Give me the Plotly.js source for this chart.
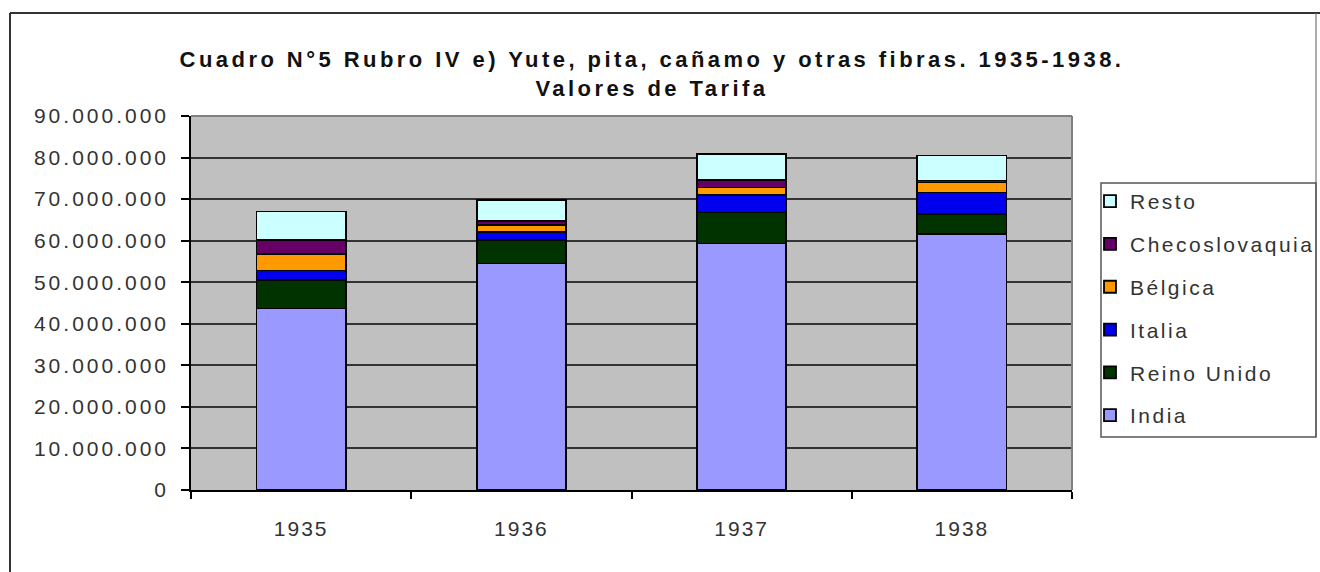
<!DOCTYPE html>
<html>
<head>
<meta charset="utf-8">
<script src="https://cdn.plot.ly/plotly-3.0.1.min.js"></script>
<style>
  html, body { margin: 0; padding: 0; background: #fff; }
  #chart { width: 1320px; height: 572px; }
  .xtick text { letter-spacing: 2px; }
  .ytick text { letter-spacing: 3px; }
  .legendtext { letter-spacing: 2.5px; }
  .gtitle { letter-spacing: 3.45px; }
</style>
</head>
<body>
<div id="chart"></div>
<script>
// ---- data ----
const years = ["1935", "1936", "1937", "1938"];
const india          = [43700000, 54500000, 59300000, 61600000];
const reinoUnido     = [6900000, 5600000, 7500000, 4900000];
const italia         = [2200000, 1900000, 4100000, 5100000];
const belgica        = [4000000, 1800000, 1900000, 2400000];
const checoslovaquia = [3400000, 1000000, 1800000, 500000];
const resto          = [6800000, 5000000, 6200000, 6000000];
const seriesNames    = ["India", "Reino Unido", "Italia", "Bélgica", "Checoslovaquia", "Resto"];
const yTickVals      = [0, 10000000, 20000000, 30000000, 40000000, 50000000, 60000000, 70000000, 80000000, 90000000];

const seriesValues = [india, reinoUnido, italia, belgica, checoslovaquia, resto];
const seriesColors = ["#9999FF", "#003300", "#0000EE", "#FF9900", "#660066", "#CCFFFF"];

// ---- geometry helpers (layout, pixel -> paper) ----
const W = 1320, H = 572;
const PL = 191, PR = 1072, PT = 116, PB = 490;
const px = v => (v - PL) / (PR - PL);
const py = v => (PB - v) / (PB - PT);

const traces = seriesNames.map((name, i) => ({
  type: "bar",
  name: name,
  x: years,
  y: seriesValues[i],
  legendgroup: "g" + i,
  legendrank: seriesNames.length - i,
  marker: { color: seriesColors[i], line: { color: "#000", width: 1.8 } },
  hoverinfo: "name+y"
}));

const layout = {
  width: W, height: H,
  margin: { l: PL, r: W - PR, t: PT, b: H - PB, pad: 0, autoexpand: false },
  paper_bgcolor: "#ffffff",
  plot_bgcolor: "#C0C0C0",
  barmode: "stack",
  bargap: 0.595,
  separators: ",.",
  font: { family: "Liberation Sans, Arial, sans-serif", color: "#333", size: 21 },
  title: {
    text: "Cuadro N°5 Rubro IV e) Yute, pita, cañamo y otras fibras. 1935-1938.<br>Valores de Tarifa",
    font: { family: "Liberation Sans, Arial, sans-serif", size: 22, color: "#111", weight: "bold" },
    xref: "paper", x: px(652), xanchor: "center",
    yref: "container", y: 1 - 67 / H, yanchor: "top"
  },
  xaxis: {
    type: "category",
    showgrid: false,
    showline: true, linecolor: "#000", linewidth: 1.5,
    ticks: "outside", ticklen: 7, tickcolor: "#000", tickwidth: 1.5,
    tickson: "boundaries",
    ticklabelstandoff: 19,
    tickfont: { size: 21, color: "#333" },
    fixedrange: true
  },
  yaxis: {
    range: [0, 90000000],
    tickvals: yTickVals,
    tickformat: ",d",
    showgrid: true, gridcolor: "#333", gridwidth: 1.5,
    zeroline: false,
    showline: true, linecolor: "#000", linewidth: 1.5,
    ticks: "outside", ticklen: 8, tickcolor: "#000", tickwidth: 1.5,
    ticklabelstandoff: 8,
    tickfont: { size: 21, color: "#333" },
    fixedrange: true
  },
  showlegend: true,
  legend: {
    traceorder: "grouped",
    tracegroupgap: 12.5,
    x: px(1090), xanchor: "left",
    y: py(181), yanchor: "top",
    bgcolor: "rgba(0,0,0,0)",
    borderwidth: 0,
    font: { size: 21, color: "#333" },
    itemclick: false, itemdoubleclick: false
  },
  shapes: [
    // plot frame (top and right, grey)
    { type: "line", xref: "paper", yref: "paper", x0: 0, x1: 1, y0: 1, y1: 1, line: { color: "#808080", width: 2 } },
    { type: "line", xref: "paper", yref: "paper", x0: 1, x1: 1, y0: 0, y1: 1, line: { color: "#808080", width: 2 } },
    // outer chart border
    { type: "line", xref: "paper", yref: "paper", x0: px(10), x1: px(10), y0: py(13), y1: py(580), line: { color: "#333", width: 2 } },
    { type: "line", xref: "paper", yref: "paper", x0: px(10), x1: px(1322), y0: py(13), y1: py(13), line: { color: "#333", width: 2 } },
    { type: "line", xref: "paper", yref: "paper", x0: px(1316), x1: px(1316), y0: py(13), y1: py(437), line: { color: "#777", width: 1.2 } },
    // legend box
    { type: "rect", xref: "paper", yref: "paper", x0: px(1101), x1: px(1316), y0: py(183), y1: py(437), line: { color: "#555", width: 1.5 }, fillcolor: "rgba(0,0,0,0)" }
  ]
};

Plotly.newPlot("chart", traces, layout, { displayModeBar: false });
</script>
</body>
</html>
